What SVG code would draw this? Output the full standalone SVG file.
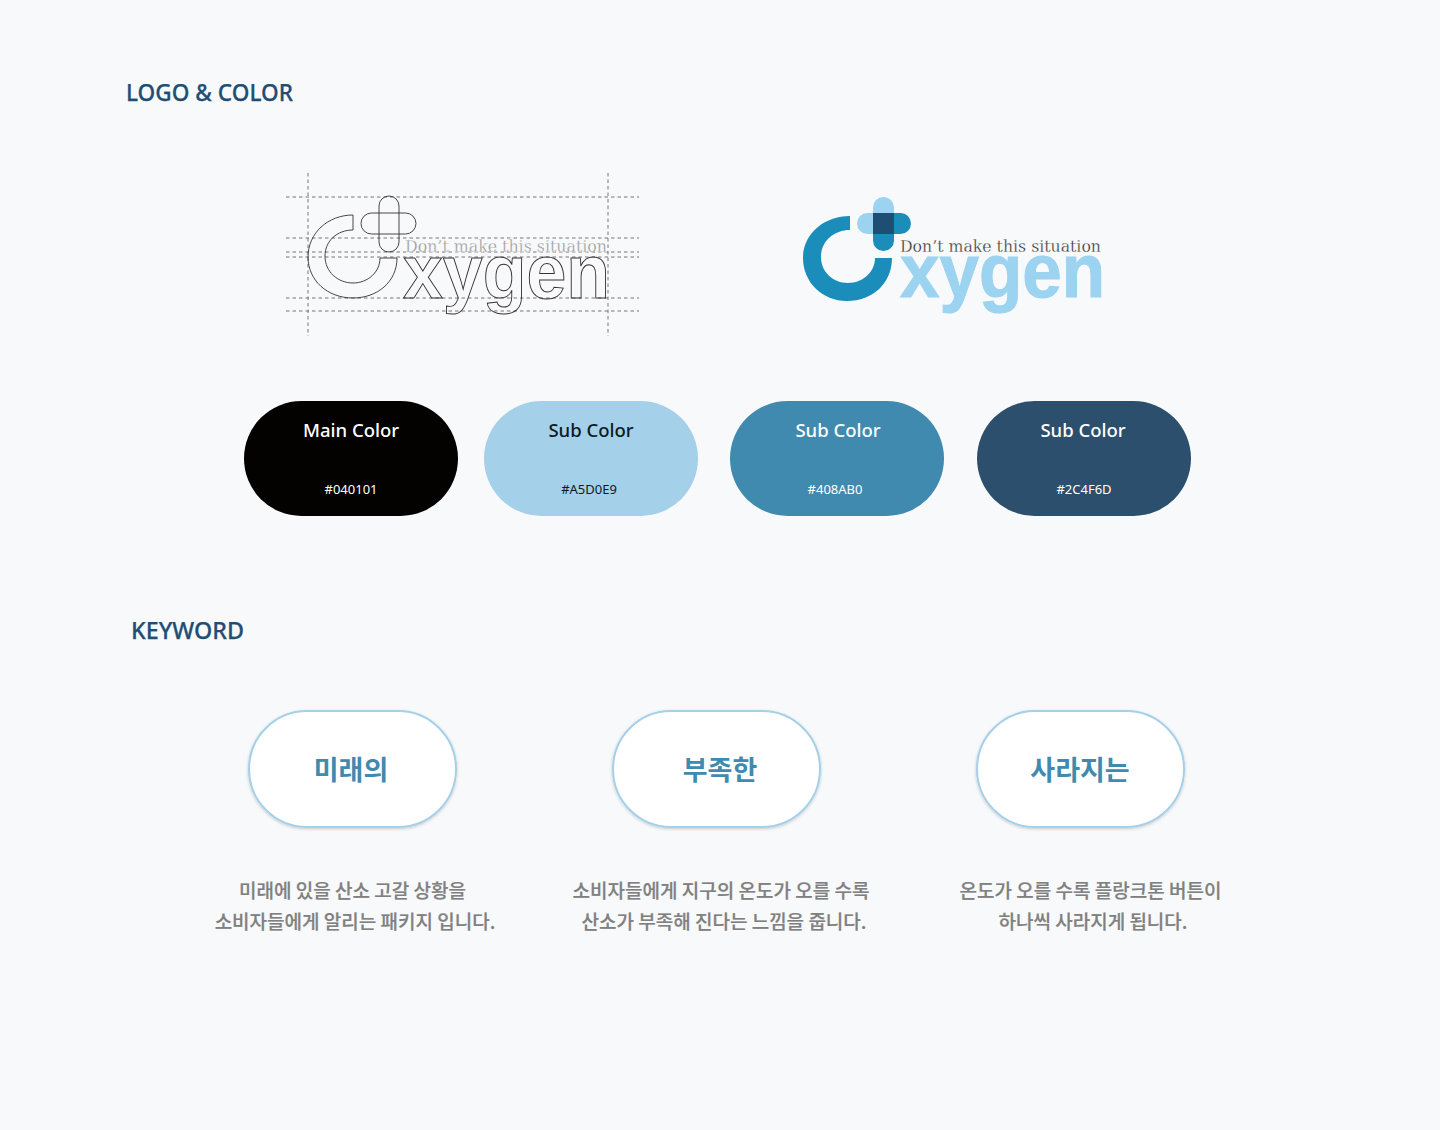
<svg xmlns="http://www.w3.org/2000/svg" width="1440" height="1130" viewBox="0 0 1440 1130">
<style>
text{font-family:"Noto Sans","Noto Sans CJK KR",sans-serif}
.h{font-size:23px;font-weight:500;fill:#1F4E74;stroke:#1F4E74;stroke-width:.25}
.cn{font-size:18.500px;font-weight:500;text-anchor:middle}
.hex{font-size:13px;text-anchor:middle}
.kw{font-size:27px;font-weight:700;fill:#408AB0;text-anchor:middle;font-family:"Noto Sans CJK KR",sans-serif}
.d{font-size:19px;font-weight:500;fill:#808080;stroke:#808080;stroke-width:.2;text-anchor:middle;font-family:"Noto Sans CJK KR",sans-serif}
.pill{fill:#fff;stroke:#A5D0E9;stroke-width:2;filter:url(#sh)}
.guide{stroke:#777;stroke-width:1;stroke-dasharray:3.500 3;fill:none}
.ol{fill:none;stroke:#3a3030;stroke-width:.9}
.big{font-family:"Liberation Sans",sans-serif;font-weight:700;font-size:71px}
.tag{font-family:"DejaVu Serif",serif;font-size:17px;stroke:#F8F9FB;stroke-width:.3}
</style>
<defs>
<filter id="sh" x="-10%" y="-20%" width="120%" height="140%"><feDropShadow dx="0" dy="1" stdDeviation="1.500" flood-color="#000" flood-opacity=".2"/></filter>
</defs>
<rect width="1440" height="1130" fill="#F8F9FB"/>
<text class="h" x="126" y="101" textLength="167" lengthAdjust="spacingAndGlyphs">LOGO &amp; COLOR</text>
<text class="h" x="131" y="639" textLength="113" lengthAdjust="spacingAndGlyphs">KEYWORD</text>
<g id="logo-outline">
<path class="guide" d="M286 197H639M286 238H639M286 252H639M286 257H639M286 298H639M286 311H639M308 173V336M608 173V336"/>
<path class="ol" d="M353 215V230C337 230 325 241 325 256C325 272 338 283 353 283C368 283 380 272 380 258H397C397 282 377 298 353 298C327 298 308 280 308 257C308 233 328 215 353 215Z"/>
<rect class="ol" x="379" y="196" width="20" height="56" rx="10"/>
<rect class="ol" x="361" y="213" width="55" height="21" rx="10.500"/>
<text class="big ol" transform="translate(403 298) scale(1.015 1.08)" textLength="204" lengthAdjust="spacingAndGlyphs">xygen</text>
<text class="tag" x="405" y="252" textLength="202" lengthAdjust="spacingAndGlyphs" fill="#999">Don’t make this situation</text>
</g>
<g id="logo-color">
<path fill="#1A8DBB" d="M850 216V230C834 230 821 241 821 257C821 272 833 283 848 283C863 283 875 272 875 258H892C892 283 873 301 847 301C822 301 803 282 803 258C803 234 824 216 850 216Z"/>
<path fill="#9BD3F0" d="M873 213V207.500A10.500 10.500 0 0 1 894 207.500V213ZM873 213H867.500A10.500 10.500 0 0 0 867.500 234H873Z"/>
<path fill="#1A8DBB" d="M894 213H900.500A10.500 10.500 0 0 1 900.500 234H894ZM873 234H894V240.500A10.500 10.500 0 0 1 873 240.500Z"/>
<rect x="873" y="213" width="21" height="21" fill="#1F4E74"/>
<text class="big" transform="translate(900 297) scale(1.015 1.08)" textLength="202" lengthAdjust="spacingAndGlyphs" fill="#9BD3F0" stroke="#9BD3F0" stroke-width="1">xygen</text>
<text class="tag" x="900" y="252" textLength="201" lengthAdjust="spacingAndGlyphs" fill="#333">Don’t make this situation</text>
</g>
<g id="color-main"><rect x="244" y="401" width="214" height="115" rx="57.500" fill="#040101"/><text class="cn" x="351" y="437" fill="#fff">Main Color</text><text class="hex" x="351" y="494" fill="#fff">#040101</text></g>
<g id="color-sub1"><rect x="484" y="401" width="214" height="115" rx="57.500" fill="#A5D0E9"/><text class="cn" x="591" y="437" fill="#0b1a24">Sub Color</text><text class="hex" x="589" y="494" fill="#0b1a24">#A5D0E9</text></g>
<g id="color-sub2"><rect x="730" y="401" width="214" height="115" rx="57.500" fill="#408AB0"/><text class="cn" x="838" y="437" fill="#fff">Sub Color</text><text class="hex" x="835" y="494" fill="#fff">#408AB0</text></g>
<g id="color-sub3"><rect x="977" y="401" width="214" height="115" rx="57.500" fill="#2C4F6D"/><text class="cn" x="1083" y="437" fill="#fff">Sub Color</text><text class="hex" x="1084" y="494" fill="#fff">#2C4F6D</text></g>
<g id="connectors" stroke="#A5D0E9" stroke-width="3" filter="url(#sh)">
<path d="M456 767H613" fill="none"/>
<path d="M820 767H977" fill="none"/>
</g>
<g id="kw1"><rect class="pill" x="249" y="711" width="207" height="116" rx="58"/><text class="kw" x="351" y="780">미래의</text></g>
<g id="kw2"><rect class="pill" x="613" y="711" width="207" height="116" rx="58"/><text class="kw" x="720" y="780">부족한</text></g>
<g id="kw3"><rect class="pill" x="977" y="711" width="207" height="116" rx="58"/><text class="kw" x="1080" y="780">사라지는</text></g>
<g id="desc1"><text class="d" x="352.500" y="898">미래에 있을 산소 고갈 상황을</text><text class="d" x="355" y="929">소비자들에게 알리는 패키지 입니다.</text></g>
<g id="desc2"><text class="d" x="721" y="898">소비자들에게 지구의 온도가 오를 수록</text><text class="d" x="724" y="929">산소가 부족해 진다는 느낌을 줍니다.</text></g>
<g id="desc3"><text class="d" x="1090.500" y="898">온도가 오를 수록 플랑크톤 버튼이</text><text class="d" x="1093" y="929">하나씩 사라지게 됩니다.</text></g>
</svg>
